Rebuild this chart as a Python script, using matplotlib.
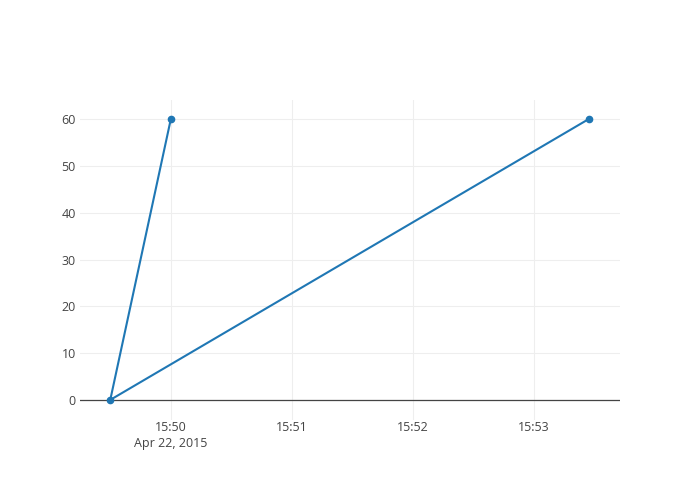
import matplotlib
matplotlib.use('Agg')
import matplotlib.pyplot as plt
import pandas as pd

plt.rcParams['font.family'] = ['Open Sans', 'DejaVu Sans']

times = pd.to_datetime(['2015-04-22 15:50:00', '2015-04-22 15:49:30', '2015-04-22 15:53:27'])
values = [60, 0, 60]
x_ticks = pd.to_datetime(['2015-04-22 15:50', '2015-04-22 15:51', '2015-04-22 15:52', '2015-04-22 15:53'])
x_labels = ['15:50\nApr 22, 2015', '15:51', '15:52', '15:53']
y_ticks = [0, 10, 20, 30, 40, 50, 60]

fig = plt.figure(figsize=(7, 5), dpi=100)
ax = fig.add_axes([80 / 700, 80 / 500, 540 / 700, 320 / 500])

ax.plot(times, values, color='#1f77b4', linewidth=1.5, marker='o', markersize=4.5, zorder=3)

ax.set_xlim(pd.Timestamp('2015-04-22 15:49:15'), pd.Timestamp('2015-04-22 15:53:42.6'))
ax.set_ylim(-4.3, 64.1)

ax.set_xticks(x_ticks)
ax.set_xticklabels(x_labels, linespacing=1.3)
for lab in ax.get_xticklabels():
    lab.set_horizontalalignment('center')
ax.set_yticks(y_ticks)

ax.grid(True, color='#eeeeee', linewidth=0.75)
ax.set_axisbelow(True)
ax.axhline(0, color='#444444', linewidth=0.9, zorder=2)
for s in ax.spines.values():
    s.set_visible(False)
ax.tick_params(length=0, labelsize=9, colors='#444444')
ax.tick_params(axis='x', pad=1)
ax.tick_params(axis='y', pad=3)

fig.savefig('out.png', dpi=100)
